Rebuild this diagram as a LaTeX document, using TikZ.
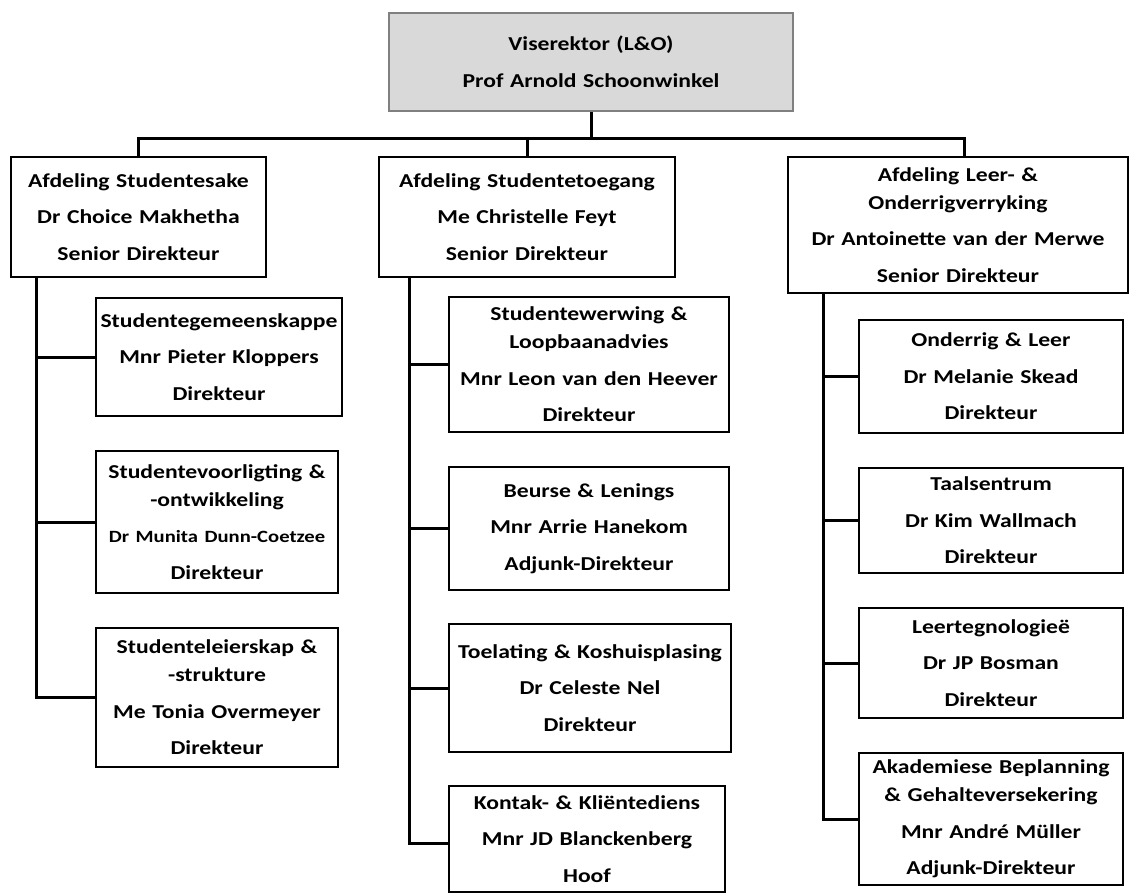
\documentclass[tikz,border=0pt]{standalone}
\usepackage{fontspec}
\setmainfont{Carlito}[FakeStretch=1.2]
\definecolor{topfill}{HTML}{D9D9D9}
\definecolor{topline}{HTML}{808080}
\newcommand{\bx}{\fontsize{19.7}{28}\selectfont\bfseries}
\newcommand{\pg}{\\[8.5pt]}
\tikzset{
  orgbox/.style={draw=black, line width=2.8pt, fill=white, align=center, inner sep=0pt, font=\bx},
  topbox/.style={orgbox, draw=topline, fill=topfill},
  conn/.style={draw=black, line width=3pt},
}
\begin{document}
\begin{tikzpicture}[x=1pt,y=-1pt]
\useasboundingbox (0,0) rectangle (1130,894);
% top
\node[topbox, text width=404pt, minimum height=98pt] (top) at (591,62) {Viserektor (L\&O)\pg Prof Arnold Schoonwinkel};
% level 1
\node[orgbox, text width=255pt, minimum height=120pt] (A1) at (138.5,217) {Afdeling Studentesake\pg Dr Choice Makhetha\pg Senior Direkteur};
\node[orgbox, text width=296pt, minimum height=120pt] (A2) at (527,217) {Afdeling Studentetoegang\pg Me Christelle Feyt\pg Senior Direkteur};
\node[orgbox, text width=340pt, minimum height=136pt] (A3) at (958,225) {Afdeling Leer- \&\\ Onderrigverryking\pg Dr Antoinette van der Merwe\pg Senior Direkteur};
% column 1
\node[orgbox, text width=246pt, minimum height=118pt] (C11) at (219,357) {Studentegemeenskappe\pg Mnr Pieter Kloppers\pg Direkteur};
\node[orgbox, text width=242pt, minimum height=142pt] (C12) at (217,522) {Studentevoorligting \&\\ -ontwikkeling\pg {\fontsize{17.2}{28}\selectfont Dr Munita Dunn-Coetzee}\pg Direkteur};
\node[orgbox, text width=242pt, minimum height=139pt] (C13) at (217,697.5) {Studenteleierskap \&\\ -strukture\pg Me Tonia Overmeyer\pg Direkteur};
% column 2
\node[orgbox, text width=280pt, minimum height=135pt] (C21) at (589,364.5) {Studentewerwing \&\\ Loopbaanadvies\pg Mnr Leon van den Heever\pg Direkteur};
\node[orgbox, text width=280pt, minimum height=123pt] (C22) at (589,528.5) {Beurse \& Lenings\pg Mnr Arrie Hanekom\pg Adjunk-Direkteur};
\node[orgbox, text width=282pt, minimum height=128pt] (C23) at (590,688) {Toelating \& Koshuisplasing\pg Dr Celeste Nel\pg Direkteur};
\node[orgbox, text width=276pt, minimum height=106pt] (C24) at (587,839) {Kontak- \& Kli\"entediens\pg Mnr JD Blanckenberg\pg Hoof};
% column 3
\node[orgbox, text width=264pt, minimum height=113pt] (C31) at (991,376.5) {Onderrig \& Leer\pg Dr Melanie Skead\pg Direkteur};
\node[orgbox, text width=264pt, minimum height=105pt] (C32) at (991,520.5) {Taalsentrum\pg Dr Kim Wallmach\pg Direkteur};
\node[orgbox, text width=264pt, minimum height=110pt] (C33) at (991,663) {Leertegnologie\"e\pg Dr JP Bosman\pg Direkteur};
\node[orgbox, text width=264pt, minimum height=132pt] (C34) at (991,819) {Akademiese Beplanning\\ \& Gehalteversekering\pg Mnr Andr\'e M\"uller\pg Adjunk-Direkteur};
% connectors top
\coordinate (bus) at (591,138);
\coordinate (A3top) at (964,157);
\draw[conn] (top.south) -- (bus);
\draw[conn] (A1.north) |- (bus) -| (A3top);
\draw[conn] (A2.north) -- (A2.north |- bus);
% spine 1
\coordinate (s1) at (36,277);
\draw[conn] (s1) |- (C13.west);
\draw[conn] (s1 |- C11.west) -- (C11.west);
\draw[conn] (s1 |- C12.west) -- (C12.west);
% spine 2
\coordinate (s2) at (409,277);
\coordinate (k24) at (449,843);
\draw[conn] (s2) |- (k24);
\draw[conn] (s2 |- C21.west) -- (C21.west);
\draw[conn] (s2 |- C22.west) -- (C22.west);
\draw[conn] (s2 |- C23.west) -- (C23.west);
% spine 3
\coordinate (s3) at (823,293);
\draw[conn] (s3) |- (C34.west);
\draw[conn] (s3 |- C31.west) -- (C31.west);
\draw[conn] (s3 |- C32.west) -- (C32.west);
\draw[conn] (s3 |- C33.west) -- (C33.west);
\end{tikzpicture}
\end{document}
